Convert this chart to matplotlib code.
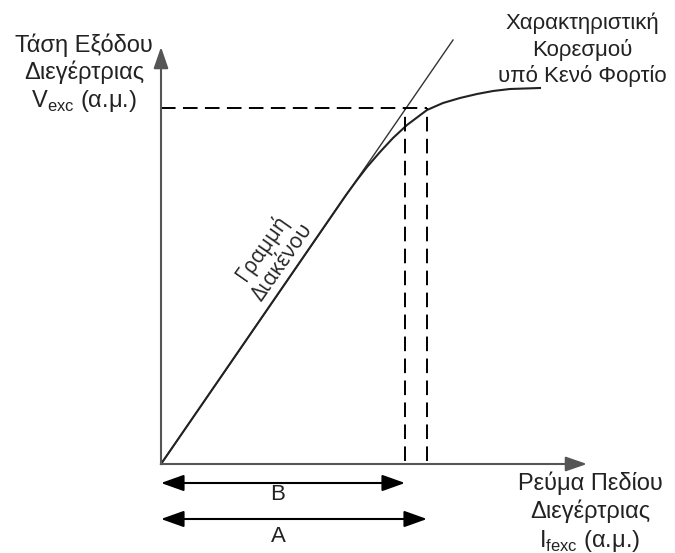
import numpy as np
import matplotlib.pyplot as plt

plt.rcParams['font.family'] = ['Liberation Sans', 'DejaVu Sans']

# saturation (open-circuit) characteristic, arbitrary units
curve_x = [0, 185, 196, 206, 219, 232, 246, 266, 282, 299, 316, 332, 349, 379]
curve_y = [0, 269, 284, 297, 312, 326, 339, 354, 361, 366, 370, 373, 375, 376]

# air gap line
gap_x = [0, 292]
gap_y = [0, 424]

# rated voltage level and the two field currents
v_rated = 356
i_B = 244
i_A = 266

fig = plt.figure(figsize=(6.75, 5.53), dpi=100)
ax = fig.add_axes([0, 0, 1, 1])
ax.set_xlim(-161, 514)
ax.set_ylim(-89, 464)
ax.axis('off')

axis_col = '#555555'
# axes with arrow heads
ax.annotate('', xy=(426, 0), xytext=(0, 0),
            arrowprops=dict(arrowstyle='-|>,head_length=1.3,head_width=0.45',
                            color=axis_col, lw=1.5, shrinkA=0, shrinkB=0))
ax.annotate('', xy=(0, 417), xytext=(0, 0),
            arrowprops=dict(arrowstyle='-|>,head_length=1.3,head_width=0.45',
                            color=axis_col, lw=1.5, shrinkA=0, shrinkB=0))

ax.plot(gap_x, gap_y, color='#333333', lw=1.0)
ax.plot(curve_x, curve_y, color='#222222', lw=1.5)

dash = dict(color='black', lw=1.4, dashes=(7.5, 3.8))
ax.plot([0, i_A], [v_rated, v_rated], **dash)
ax.plot([i_B, i_B], [3, v_rated], **dash)
ax.plot([i_A, i_A], [3, v_rated], **dash)

arr = dict(arrowstyle='<|-|>,head_length=1.4,head_width=0.5', color='black',
           lw=1.5, shrinkA=0, shrinkB=0)
ax.annotate('', xy=(i_B, -19), xytext=(0, -19), arrowprops=arr)
ax.annotate('', xy=(i_A, -55), xytext=(0, -55), arrowprops=arr)
ax.text(117, -31, 'B', ha='center', va='center', fontsize=16, color='#222222')
ax.text(117, -73, 'A', ha='center', va='center', fontsize=16, color='#222222')

ax.text(-77, 390, 'Τάση Εξόδου\nΔιεγέρτριας\nV$_{\\mathregular{exc}}$ (α.μ.)',
        ha='center', va='center', fontsize=17, linespacing=1.2, color='#222222')
ax.text(429, -49, 'Ρεύμα Πεδίου\nΔιεγέρτριας\nI$_{\\mathregular{fexc}}$ (α.μ.)',
        ha='center', va='center', fontsize=17, linespacing=1.25, color='#222222')
ax.text(421, 414, 'Χαρακτηριστική\nΚορεσμού\nυπό Κενό Φορτίο',
        ha='center', va='center', fontsize=16, linespacing=1.25, color='#222222')

ax.text(111, 209, 'Γραμμή\nΔιακένου', ha='center', va='center', fontsize=15,
        rotation=55, rotation_mode='anchor', family=['Open Sans', 'DejaVu Sans'],
        color='#222222', linespacing=1.25)

fig.savefig('out.png', dpi=100)
